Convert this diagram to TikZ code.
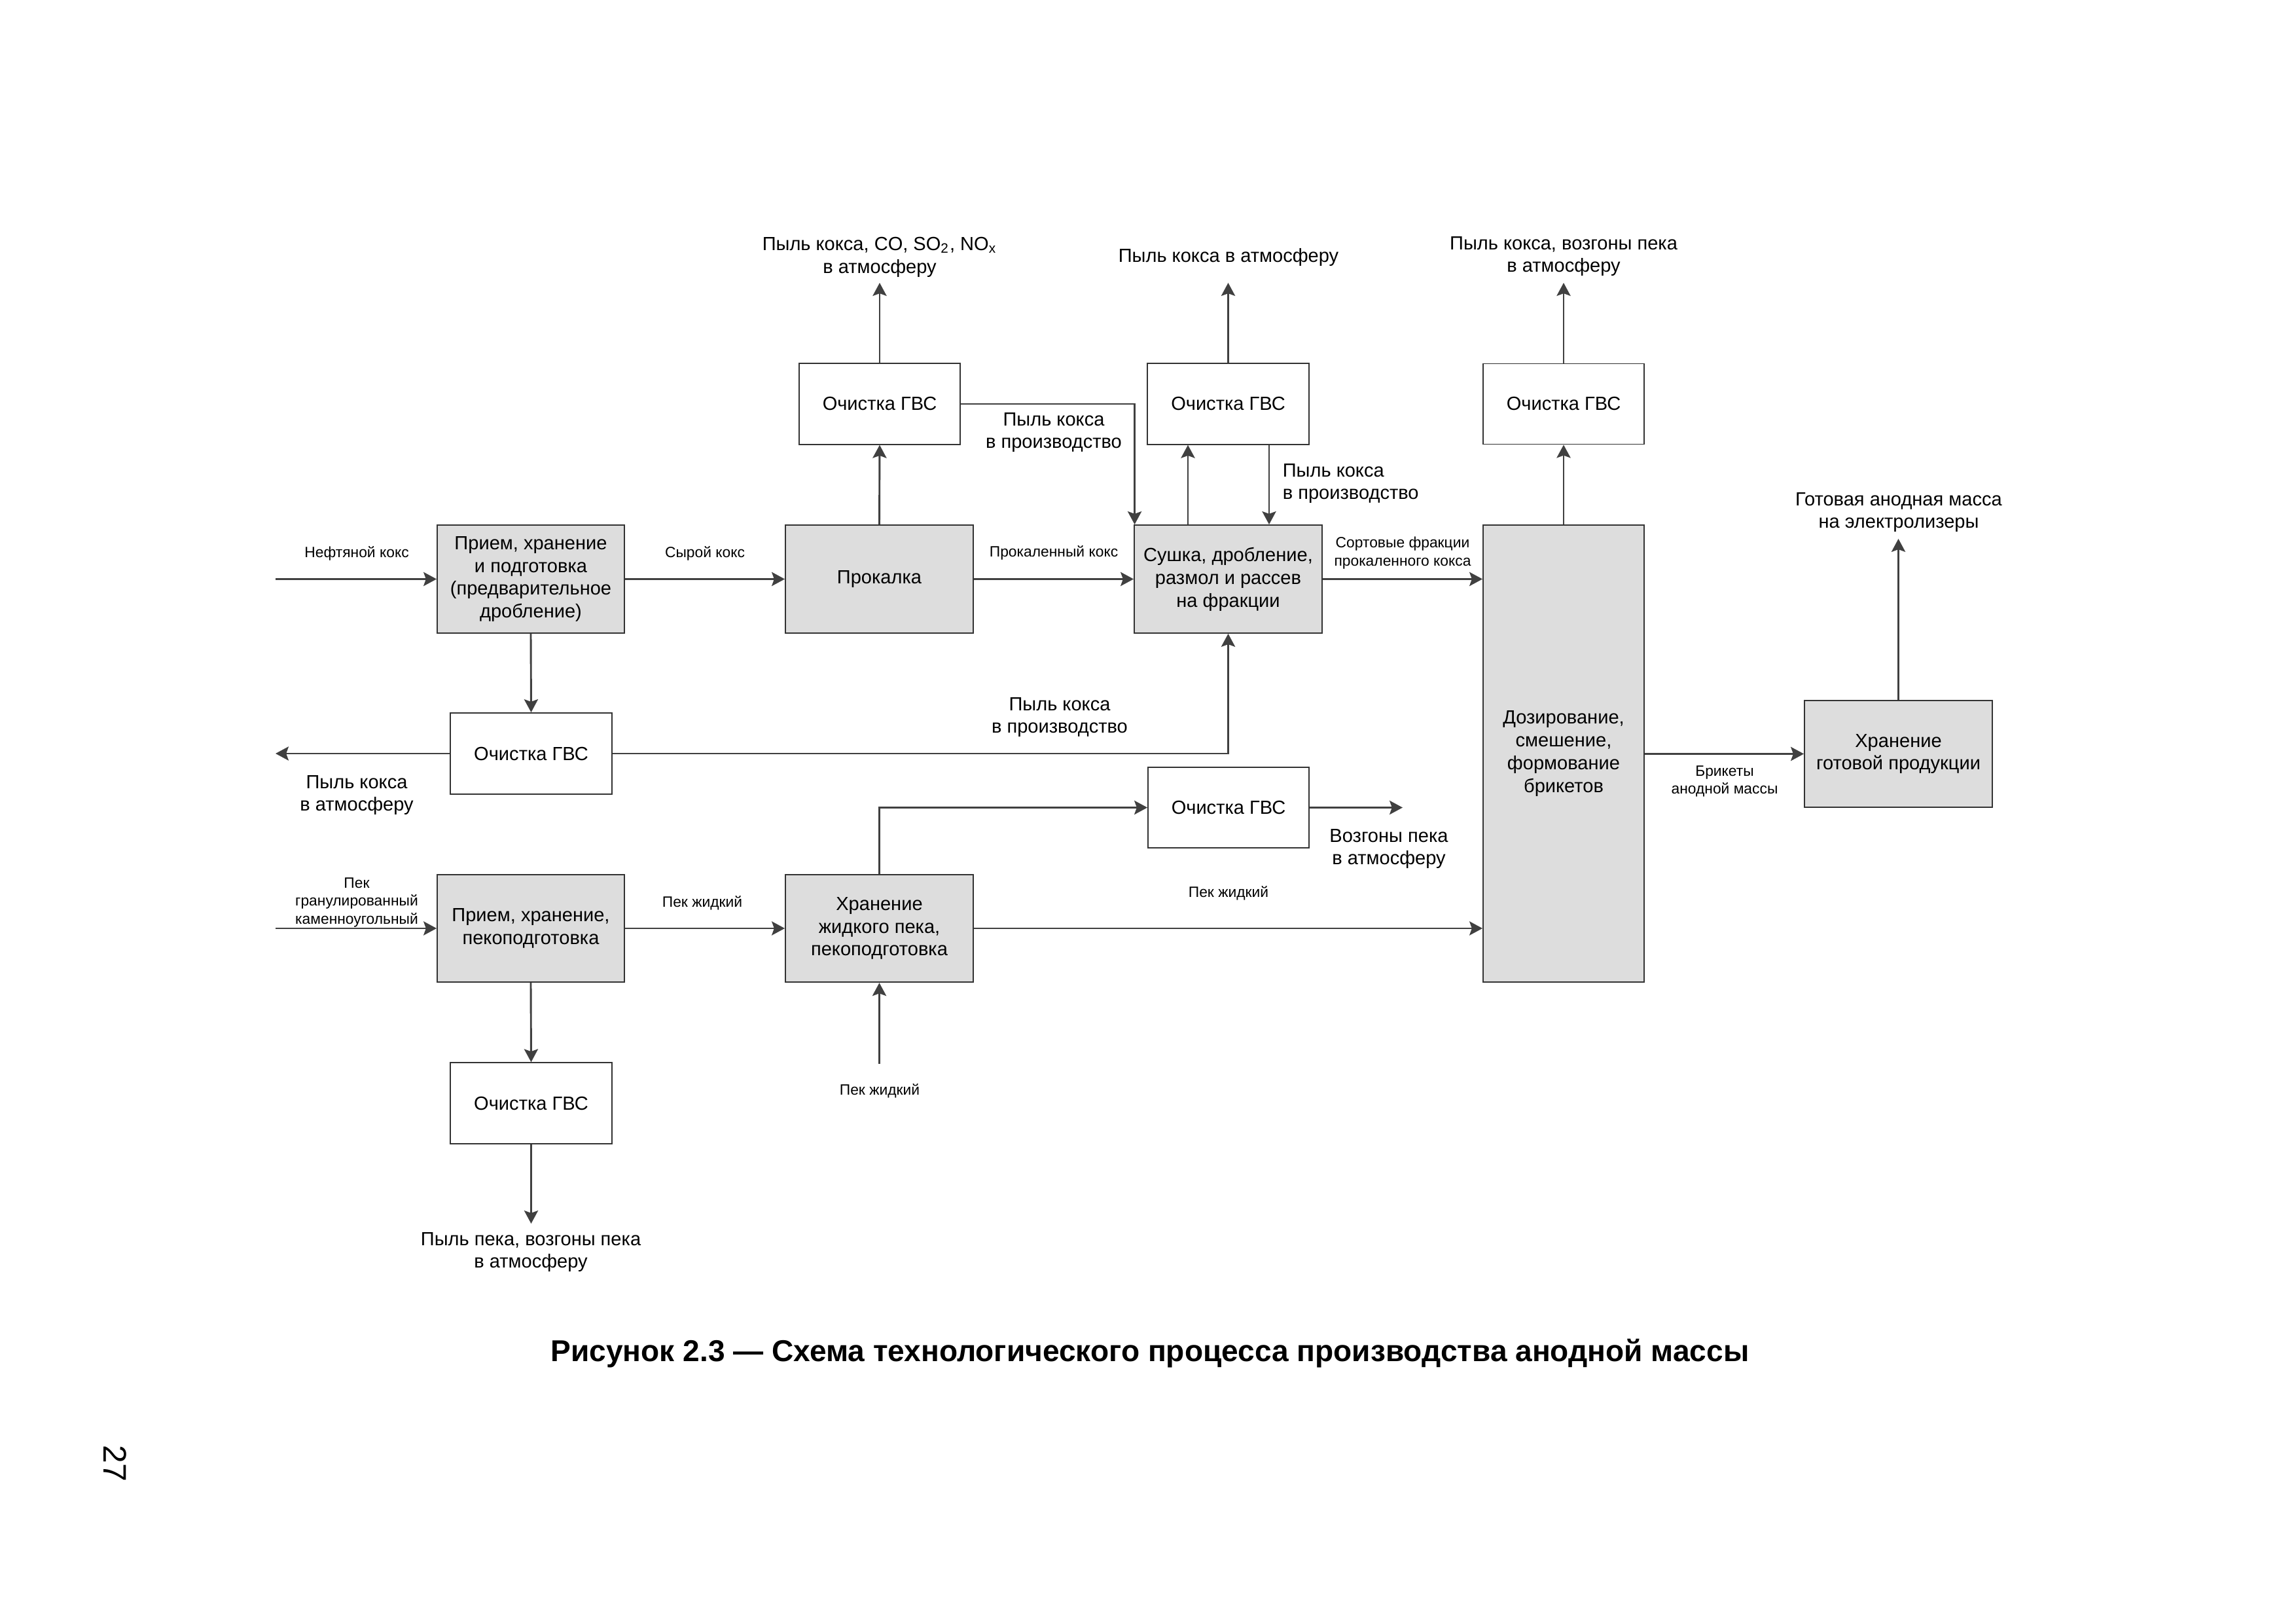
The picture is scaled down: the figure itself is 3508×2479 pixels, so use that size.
\documentclass[tikz,border=0pt]{standalone}
\usepackage{fontspec}
\setmainfont{Liberation Sans}
\usetikzlibrary{arrows.meta,calc}
\def\pxu{0.0846667mm}
\definecolor{boxfill}{HTML}{DDDDDD}
\definecolor{linec}{HTML}{404040}
\definecolor{edgec}{HTML}{333333}
\begin{document}
\begin{tikzpicture}[x=\pxu, y=-\pxu,
  proc/.style 2 args={draw=edgec, line width=0.45pt, fill=boxfill, minimum width=#1*\pxu, minimum height=#2*\pxu, inner sep=0pt, align=center, font=\fontsize{7}{8.4}\selectfont},
  clean/.style 2 args={proc={#1}{#2}, fill=white},
  lbl/.style={inner sep=0pt, align=center, yshift=-2.5*\pxu, font=\fontsize{7}{8.4}\selectfont},
  slbl/.style={inner sep=0pt, align=center, yshift=-2.5*\pxu, font=\fontsize{5.5}{6.7}\selectfont},
  arr/.style={draw=linec, line width=0.7pt, -{Stealth[length=4.8pt,width=5.1pt,inset=0.9pt]}}]
\fill[white] (0,0) rectangle (3508,2479);
\useasboundingbox (0,0) rectangle (3508,2479);

% process boxes
\node[proc={286}{165}] (B1) at (811,884.5) {Прием, хранение\\и подготовка\\(предварительное\\дробление)};
\node[proc={287}{165}] (B2) at (1343.5,884.5) {Прокалка};
\node[proc={287}{165}] (B3) at (1876.5,884.5) {Сушка, дробление,\\размол и рассев\\на фракции};
\node[proc={246}{698}] (B4) at (2389,1151) {Дозирование,\\смешение,\\формование\\брикетов};
\node[proc={287}{163}] (B5) at (2900.5,1151.5) {Хранение\\готовой продукции};
\node[proc={286}{164.5}] (B6) at (811,1418) {Прием, хранение,\\пекоподготовка};
\node[proc={287}{164.5}] (B7) at (1343.5,1418) {Хранение\\жидкого пека,\\пекоподготовка};

% gas cleaning boxes
\node[clean={246}{123.5}] (G1) at (1344,617) {Очистка ГВС};
\node[clean={247}{123.5}] (G2) at (1876.5,617) {Очистка ГВС};
\node[clean={246}{123}] (G3) at (2389,617) {Очистка ГВС};
\node[clean={247}{124}] (G4) at (811.5,1151) {Очистка ГВС};
\node[clean={246}{123}] (G5) at (1877,1233.5) {Очистка ГВС};
\node[clean={247}{123.5}] (G6) at (811.5,1685) {Очистка ГВС};

% free ends
\coordinate (in1) at (421,884.5);
\coordinate (out4) at (421,1151);
\coordinate (in2) at (421,1418);
\coordinate (t1) at (1344,432);
\coordinate (t2) at (1876.5,432);
\coordinate (t3) at (2389,432);
\coordinate (t5) at (2900.5,823);
\coordinate (o5) at (2143,1233.5);
\coordinate (in3) at (1343.5,1624.5);
\coordinate (o6) at (811.5,1869);

% labels
\node[slbl] (L1) at (545,843) {Нефтяной кокс};
\node[slbl] (L2) at (1077,843) {Сырой кокс};
\node[slbl] (L3) at (1610,842) {Прокаленный кокс};
\node[slbl] (L4) at (2143,842) {Сортовые фракции\\прокаленного кокса};
\node[lbl] (L5) at (1344,390) {Пыль кокса, CO, SO\textsubscript{2}, NO\textsubscript{x}\\в атмосферу};
\node[lbl] (L6) at (1610,658) {Пыль кокса\\в производство};
\node[lbl] (L7) at (1877,390) {Пыль кокса в атмосферу};
\node[lbl, anchor=west, align=left] (L8) at (1959,736) {Пыль кокса\\в производство};
\node[lbl] (L9) at (2389,389) {Пыль кокса, возгоны пека\\в атмосферу};
\node[lbl] (L10) at (2901,780) {Готовая анодная масса\\на электролизеры};
\node[slbl] (L11) at (2635,1191) {Брикеты\\анодной массы};
\node[lbl] (L12) at (545,1212) {Пыль кокса\\в атмосферу};
\node[lbl] (L13) at (1619,1093) {Пыль кокса\\в производство};
\node[lbl] (L14) at (2122,1294) {Возгоны пека\\в атмосферу};
\node[slbl] (L15) at (1877,1362) {Пек жидкий};
\node[slbl] (L16) at (545,1376) {Пек\\гранулированный\\каменноугольный};
\node[slbl] (L17) at (1073,1376.5) {Пек жидкий};
\node[slbl] (L18) at (1344,1664) {Пек жидкий};
\node[lbl] (L19) at (811,1910) {Пыль пека, возгоны пека\\в атмосферу};

\node[font=\bfseries\fontsize{11.1}{13.3}\selectfont, anchor=base, inner sep=0pt] (title) at (1757,2079) {Рисунок 2.3 — Схема технологического процесса производства анодной массы};
\node[rotate=-90, font=\fontsize{12}{14}\selectfont, inner sep=0pt] (pg) at (176,2235) {27};

% connectors
\draw[arr] (in1) -- (B1.west);
\draw[arr] (B1.east) -- (B2.west);
\draw[arr] (B2.east) -- (B3.west);
\draw[arr] (B3.east) -- (B3.east -| B4.west);
\draw[arr] (B2.north) -- (G1.south);
\draw[arr] (G1.north) -- (t1);
\draw[arr] (G1.east) -| ([xshift=1.5*\pxu]B3.north west);
\draw[arr] ([xshift=-61.5*\pxu]B3.north) -- ([xshift=-61.5*\pxu]B3.north |- G2.south);
\draw[arr] ([xshift=62.5*\pxu]G2.south) -- ([xshift=62.5*\pxu]G2.south |- B3.north);
\draw[arr] (G2.north) -- (t2);
\draw[arr] (B4.north) -- (G3.south);
\draw[arr] (G3.north) -- (t3);
\draw[arr] (B1.south) -- (G4.north);
\draw[arr] (G4.west) -- (out4);
\draw[arr] (G4.east) -| (B3.south);
\draw[arr] (B4.east |- B5.west) -- (B5.west);
\draw[arr] (B5.north) -- (t5);
\draw[arr] (in2) -- (B6.west);
\draw[arr] (B6.east) -- (B7.west);
\draw[arr] (B7.north) |- (G5.west);
\draw[arr] (G5.east) -- (o5);
\draw[arr] (B7.east) -- (B7.east -| B4.west);
\draw[arr] (in3) -- (B7.south);
\draw[arr] (B6.south) -- (G6.north);
\draw[arr] (G6.south) -- (o6);
\end{tikzpicture}
\end{document}
